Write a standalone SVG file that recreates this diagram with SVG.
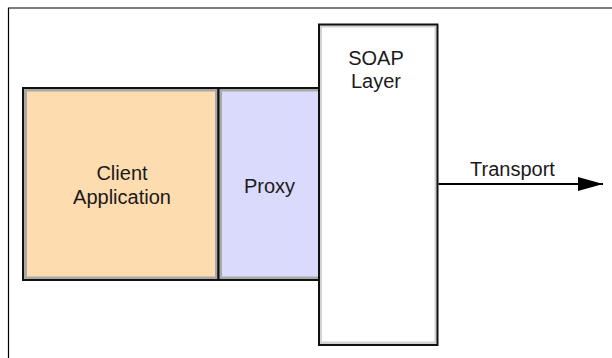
<svg xmlns="http://www.w3.org/2000/svg" width="612" height="358" viewBox="0 0 612 358">
  <style>
    .label { font-family: "Liberation Sans", Arial, sans-serif; font-size: 20px; fill: #1a1a1a; text-anchor: middle; }
    .outer { fill: none; stroke: #111; stroke-width: 2; }
    .frame { fill: none; stroke: #000; stroke-width: 1.2; }
    .conn { stroke: #000; stroke-width: 2; fill: none; }
  </style>
  <defs>
    <marker id="arrow" markerWidth="25" markerHeight="14" refX="25" refY="7" orient="auto" markerUnits="userSpaceOnUse" viewBox="0 0 25 14">
      <path d="M0,0 L25,7 L0,14 Z" fill="#000"/>
    </marker>
  </defs>
  <rect width="612" height="358" fill="#fff"/>
  <!-- page frame: only the top and left edges fall inside the view -->
  <path class="frame" d="M8.5,358 V8 H612"/>

  <g id="client">
    <rect x="23" y="88" width="195.5" height="192" fill="#a8a8a8"/>
    <rect x="27" y="91.5" width="188" height="185" fill="#fddcb0"/>
    <rect class="outer" x="23" y="88" width="195.5" height="192"/>
    <text class="label" x="122" y="179.5">Client</text>
    <text class="label" x="122" y="204">Application</text>
  </g>

  <g id="proxy">
    <rect x="218.5" y="88" width="101" height="192" fill="#a8a8a8"/>
    <rect x="222" y="91.5" width="96" height="185" fill="#dadafc"/>
    <rect class="outer" x="218.5" y="88" width="101" height="192"/>
    <text class="label" x="269.5" y="192.5">Proxy</text>
  </g>

  <g id="soap">
    <rect x="319" y="24.5" width="118.5" height="320.5" fill="#d2d2d2"/>
    <rect x="322" y="27.5" width="112.5" height="314" fill="#fff"/>
    <rect class="outer" x="319" y="24.5" width="118.5" height="320.5"/>
    <text class="label" x="376" y="65">SOAP</text>
    <text class="label" x="376" y="88">Layer</text>
  </g>

  <g id="connectors">
    <line class="conn" x1="438.5" y1="184" x2="603" y2="184" marker-end="url(#arrow)"/>
    <text class="label" x="512.5" y="176">Transport</text>
  </g>
</svg>
